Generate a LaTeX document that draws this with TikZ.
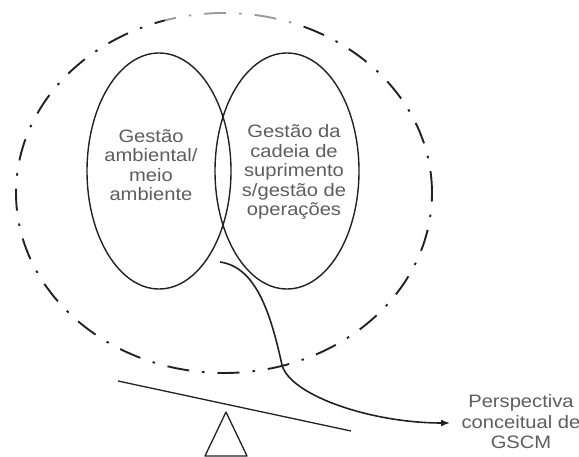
\documentclass[tikz,border=0pt]{standalone}
\usepackage{fontspec}
\setmainfont{Liberation Sans}
\newfontfamily\labfont[FakeStretch=1.12]{Liberation Sans}
\usetikzlibrary{arrows.meta,shapes.geometric}
\definecolor{ink}{HTML}{222222}
\definecolor{txt}{HTML}{5E5E5E}
\begin{document}
\begin{tikzpicture}[x=1pt,y=-1pt,
  ring/.style={draw=ink, line width=1.4pt, ellipse, inner sep=0pt, minimum width=144pt, minimum height=236pt},
  outer/.style={draw=ink, line width=1.9pt, ellipse, inner sep=0pt, dash pattern=on 22pt off 13pt on 2.5pt off 13pt, minimum width=416pt, minimum height=360pt},
  lab/.style={font=\labfont\fontsize{18}{19.5}\selectfont, text=txt, align=center, inner sep=0pt},
  sidelab/.style={font=\labfont\fontsize{18}{20.5}\selectfont, text=txt, align=center, inner sep=0pt},
  conn/.style={draw=ink, line width=1.6pt, -{Latex[length=9pt,width=7pt]}},
  plain/.style={draw=ink, line width=1.3pt, line join=round}]
\useasboundingbox (0,0) rectangle (579,457);
\fill[white] (0,0) rectangle (579,457);
\node[outer] (gscmring) at (224,193) {};
\fill[white, opacity=0.55] (165,0) rectangle (300,30);
\node[ring] (env) at (159,171) {};
\node[ring] (scm) at (287,171) {};
\node[lab] (envtxt) at (151,165) {Gestão\\ambiental/\\meio\\ambiente};
\node[lab] (scmtxt) at (294,172) {Gestão da\\cadeia de\\suprimento\\s/gestão de\\operações};
\coordinate (s) at (220,262);
\coordinate (m) at (282,365);
\coordinate (e) at (450,423);
\draw[conn] (s) .. controls +(35,5) and +(-12,-55) .. (m) .. controls +(8,30) and +(-80,0) .. (e);
\coordinate (l1) at (118,381);
\coordinate (l2) at (351,431);
\draw[plain] (l1) -- (l2);
\coordinate (apex) at (226,412);
\coordinate (bl) at (205,456);
\coordinate (br) at (247,456);
\draw[plain] (apex) -- (bl) -- (br) -- cycle;
\node[sidelab] (persp) at (521,422) {Perspectiva\\conceitual de\\GSCM};
\end{tikzpicture}
\end{document}
